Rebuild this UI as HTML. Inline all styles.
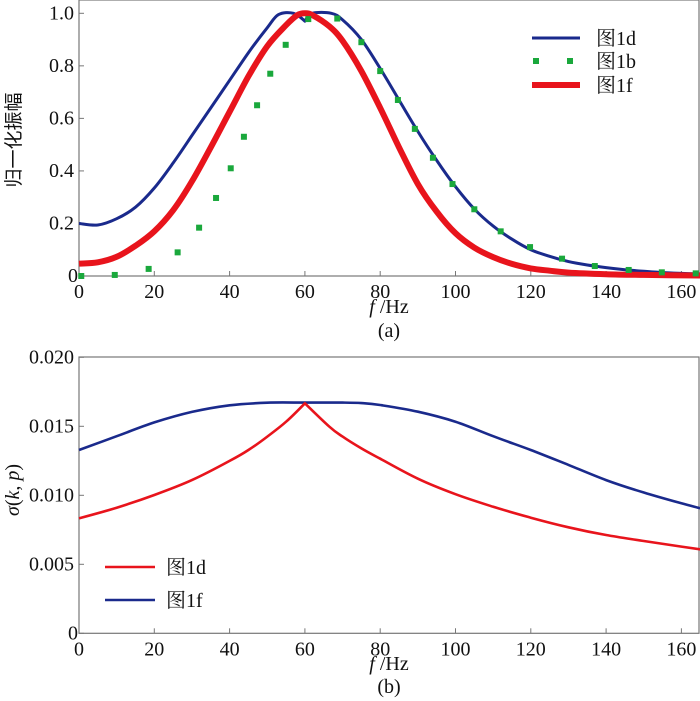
<!DOCTYPE html>
<html><head><meta charset="utf-8"><style>
body{margin:0;background:#fff}
svg{display:block}
text{font-family:"Liberation Serif","Noto Serif CJK SC",serif;fill:#111}
</style></head><body>
<svg id="chart" width="700" height="701" viewBox="0 0 700 701" font-family="Liberation Serif, serif">
<g id="gA"></g>
<g id="gB"></g>
</svg>
<script>
// Panel (a) data
const aBlueF=[0,5,10,15,20,25,30,35,40,45,50,53,57,60,62,67,70,75,80,85,90,95,100,105,110,115,120,125,130,135,140,145,150,155,160,165];
const aBlueV=[0.2,0.194,0.218,0.262,0.335,0.43,0.535,0.64,0.745,0.85,0.945,0.995,1.0,0.97,1.0,1.0,0.975,0.9,0.79,0.67,0.55,0.44,0.34,0.255,0.19,0.14,0.1,0.075,0.055,0.042,0.032,0.024,0.018,0.013,0.01,0.008];
const aRedF=[0,5,10,15,20,25,30,35,40,45,50,55,58,60,62,66.5,70,75,80,85,90,95,100,105,110,115,120,125,130,140,150,165];
const aRedV=[0.047,0.052,0.073,0.115,0.17,0.25,0.36,0.49,0.625,0.76,0.875,0.955,0.993,1.0,0.993,0.95,0.895,0.78,0.64,0.49,0.35,0.245,0.163,0.108,0.072,0.046,0.029,0.02,0.013,0.007,0.004,0.002];
const aGreenF=[0.6,9.5,18.5,26.2,31.9,36.4,40.3,43.8,47.3,50.8,54.9,60.9,68.6,75,80,84.7,89.2,94,99.2,105,112,119.8,128.3,137,146,154.8,163.8];
const aGreenV=[0,0.004,0.027,0.09,0.184,0.297,0.41,0.53,0.65,0.77,0.88,0.978,0.98,0.89,0.78,0.67,0.56,0.45,0.35,0.254,0.17,0.11,0.066,0.038,0.023,0.014,0.01];
const aYTicks=[0,0.2,0.4,0.6,0.8,1.0];
const aYLabels=["0","0.2","0.4","0.6","0.8","1.0"];
const xTicks=[0,20,40,60,80,100,120,140,160];
// Panel (b) data
const bBlueF=[0,10,20,30,40,50,60,70,75,80,90,100,110,120,130,140,150,160,165];
const bBlueV=[0.01328,0.01428,0.01528,0.01604,0.01652,0.01671,0.01672,0.01672,0.01668,0.01654,0.01606,0.01533,0.01428,0.01328,0.0122,0.0111,0.0102,0.00942,0.00906];
const bRedF=[0,10,20,30,40,45,50,55,60,66.5,70,75,80,90,100,110,120,130,140,150,160,165];
const bRedV=[0.00833,0.0091,0.01002,0.0111,0.01249,0.01328,0.01425,0.01533,0.01667,0.01497,0.01425,0.0134,0.01265,0.0112,0.01008,0.00917,0.00838,0.00768,0.00712,0.00669,0.00628,0.00609];
const bYTicks=[0,0.005,0.010,0.015,0.020];
const bYLabels=["0","0.005","0.010","0.015","0.020"];

const NS="http://www.w3.org/2000/svg";
function mk(parent,tag,attrs,txt){const e=document.createElementNS(NS,tag);for(const k in attrs)e.setAttribute(k,attrs[k]);if(txt!==undefined)e.textContent=txt;parent.appendChild(e);return e;}
const X0=79,XS=3.765;
function xs(f){return X0+f*XS;}

function axes(g,top,bottom,yTicks,yLabels,yfun){
  const f=mk(g,'rect',{x:X0,y:top,width:699-X0,height:bottom-top,fill:'none',stroke:'#777','stroke-width':1.2});
  
  
  xTicks.forEach(t=>{
    const l=mk(g,'line',{x1:xs(t),x2:xs(t),y1:bottom,y2:bottom-5,stroke:'#777'});
    
    
    const tx=mk(g,'text',{x:xs(t),y:bottom+22,'font-size':20,'text-anchor':'middle'},String(t));
    
    
  });
  yTicks.forEach((t,i)=>{
    const l=mk(g,'line',{x1:X0,x2:X0+5,y1:yfun(t),y2:yfun(t),stroke:'#777'});
    
    
    const tx=mk(g,'text',{x:i===0?X0-1:74,y:yfun(t)+6,'font-size':20,'text-anchor':'end'},yLabels[i]);
    
    
  });
}
function line(g,F,V,yfun,color,w,name,corner){
  const P=F.map((f,i)=>[xs(f),yfun(V[i])]);
  let d='M'+P[0][0].toFixed(1)+','+P[0][1].toFixed(1);
  for(let i=0;i<P.length-1;i++){
    const p0=P[Math.max(0,i-1)],p1=P[i],p2=P[i+1],p3=P[Math.min(P.length-1,i+2)];
    const k1=(corner===i)?0:1/6,k2=(corner===i+1)?0:1/6;
    const c1=[p1[0]+(p2[0]-p0[0])*k1,p1[1]+(p2[1]-p0[1])*k1];
    const c2=[p2[0]-(p3[0]-p1[0])*k2,p2[1]-(p3[1]-p1[1])*k2];
    d+='C'+c1[0].toFixed(1)+','+c1[1].toFixed(1)+' '+c2[0].toFixed(1)+','+c2[1].toFixed(1)+' '+p2[0].toFixed(1)+','+p2[1].toFixed(1);
  }
  const p=mk(g,'path',{d:d,fill:'none',stroke:color,'stroke-width':w,'stroke-linejoin':'round'});
  
  
}
// Panel a
const gA=document.getElementById('gA');
const ya=v=>276-v*262.7;
axes(gA,0,276,aYTicks,aYLabels,ya);
line(gA,aBlueF,aBlueV,ya,'#1a2a8c',3,'series-fig1d-line',aBlueF.indexOf(60));
line(gA,aRedF,aRedV,ya,'#e8141c',6,'series-fig1f-line',-1);
aGreenF.forEach((f,i)=>{
  const r=mk(gA,'rect',{x:xs(f)-3,y:ya(aGreenV[i])-3,width:6,height:6,fill:'#1aa83c'});
  
  
});
// legend a
[['#1a2a8c',3,'图1d',38],['#1aa83c',0,'图1b',61],['#e8141c',6,'图1f',85]].forEach((L,i)=>{
  const g=mk(gA,'g',{});
  
  
  if(L[1]) mk(g,'line',{x1:532,x2:580,y1:L[3],y2:L[3],stroke:L[0],'stroke-width':L[1]});
  else {mk(g,'rect',{x:533,y:L[3]-3,width:6,height:6,fill:L[0]});mk(g,'rect',{x:567,y:L[3]-3,width:6,height:6,fill:L[0]});}
  mk(g,'text',{x:596,y:L[3]+7,'font-size':20},L[2]);
});
let t;
t=mk(gA,'text',{x:389,y:313,'font-size':20,'text-anchor':'middle'});
t.innerHTML='<tspan font-style="italic">f</tspan> /Hz';


t=mk(gA,'text',{x:389,y:337,'font-size':20,'text-anchor':'middle'},'(a)');


t=mk(gA,'text',{x:0,y:0,'font-size':19,'text-anchor':'middle',transform:'translate(20,140) rotate(-90)',style:'font-family:"Noto Sans CJK SC",sans-serif'},'归一化振幅');


// Panel b
const gB=document.getElementById('gB');
const yb=v=>633.3-v*13800;
axes(gB,357,633.3,bYTicks,bYLabels,yb);
line(gB,bBlueF,bBlueV,yb,'#1a2a8c',2.6,'series-fig1f-line',-1);
line(gB,bRedF,bRedV,yb,'#e8141c',2.6,'series-fig1d-line',bRedF.indexOf(60));
[['#e8141c','图1d',567],['#1a2a8c','图1f',600]].forEach(L=>{
  const g=mk(gB,'g',{});
  
  
  mk(g,'line',{x1:105,x2:155,y1:L[2],y2:L[2],stroke:L[0],'stroke-width':2.6});
  mk(g,'text',{x:166,y:L[2]+7,'font-size':20},L[1]);
});
t=mk(gB,'text',{x:389,y:670,'font-size':20,'text-anchor':'middle'});
t.innerHTML='<tspan font-style="italic">f</tspan> /Hz';


t=mk(gB,'text',{x:389,y:693,'font-size':20,'text-anchor':'middle'},'(b)');


t=mk(gB,'text',{x:0,y:0,'font-size':20,'text-anchor':'middle',transform:'translate(19,490) rotate(-90)'});
t.innerHTML='<tspan font-style="italic">σ</tspan>(<tspan font-style="italic">k</tspan>, <tspan font-style="italic">p</tspan>)';


</script>
</body></html>
